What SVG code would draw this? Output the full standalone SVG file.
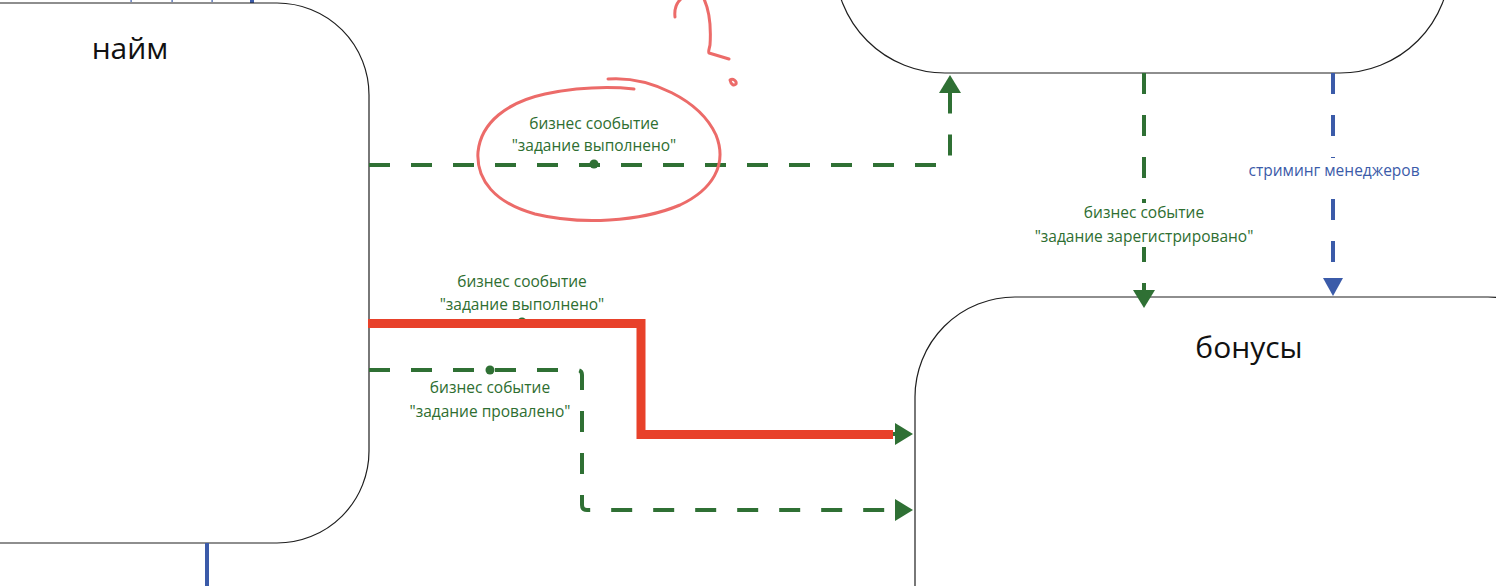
<svg xmlns="http://www.w3.org/2000/svg" width="1496" height="586" viewBox="0 0 1496 586">
<style>
.node{fill:#fff;stroke:#1e1e1e;stroke-width:1.2}
.title{font-family:"Open Sans","Noto Sans",sans-serif;font-size:30px;fill:#111;text-anchor:middle}
.lbl{font-family:"Open Sans","Noto Sans",sans-serif;font-size:15.5px;text-anchor:middle}
.g{fill:#2e6e31}
.b{fill:#3b5ba9}
.gl{fill:none;stroke:#2f7034;stroke-width:4;stroke-dasharray:21 21}
.bl{fill:none;stroke:#3b5ba9;stroke-width:4;stroke-dasharray:21 21}
.scrib{fill:none;stroke:#ec6b69;stroke-width:3;stroke-linecap:round;stroke-linejoin:round}
</style>
<defs>
<marker id="ag" markerUnits="userSpaceOnUse" viewBox="0 0 18 22" markerWidth="18" markerHeight="22" refX="0" refY="11" orient="auto"><path d="M0,0 L18,11 L0,22 Z" fill="#2f7034"/></marker>
<marker id="ab" markerUnits="userSpaceOnUse" viewBox="0 0 18 22" markerWidth="18" markerHeight="22" refX="0" refY="11" orient="auto"><path d="M0,1 L18,11 L0,21 Z" fill="#3b5ba9"/></marker>
</defs>
<rect width="1496" height="586" fill="#fff"/>
<g id="top-fragments">
<rect x="130.5" y="0" width="1.2" height="2" fill="#3b5ba9"/>
<rect x="171.5" y="0" width="1.2" height="2" fill="#3b5ba9"/>
<rect x="211.5" y="0" width="1.2" height="2" fill="#3b5ba9"/>
<rect x="250" y="0" width="4" height="3" fill="#3b5ba9"/>
</g>
<g id="node-hire">
<rect class="node" x="-300" y="3" width="669" height="540" rx="92" ry="92"/>
<text class="title" x="130" y="59">найм</text>
</g>
<g id="node-top">
<rect class="node" x="835" y="-200" width="615" height="273" rx="110" ry="110"/>
</g>
<g id="node-bonus">
<rect class="node" x="915" y="297" width="673" height="400" rx="100" ry="100"/>
<text class="title" x="1249" y="358">бонусы</text>
</g>
<g id="connectors">
<path class="gl" d="M369,165 H944 Q950,165 950,159 V93" marker-end="url(#ag)"/>
<circle cx="594" cy="164" r="4.5" fill="#2f7034"/>
<path class="gl" d="M369,323 H641 V434 H895" marker-end="url(#ag)"/>
<circle cx="522" cy="322" r="4.5" fill="#2f7034"/>
<path d="M368,323.5 H641 V434.5 H893" fill="none" stroke="#e8412a" stroke-width="9" stroke-linejoin="miter"/>
<path class="gl" d="M369,370 H577 Q582,370 582,375 V505 Q582,510 587,510 H895" marker-end="url(#ag)"/>
<circle cx="490" cy="370" r="4.5" fill="#2f7034"/>
<path class="gl" d="M1144,73 V290" marker-end="url(#ag)"/>
<path class="bl" d="M1333,73 V278" marker-end="url(#ab)"/>
<line x1="207" y1="543" x2="207" y2="586" stroke="#3b5ba9" stroke-width="4"/>
</g>
<g id="labels">
<text class="lbl g" x="594" y="129">бизнес сообытие</text>
<text class="lbl g" x="594" y="151">"задание выполнено"</text>
<text class="lbl g" x="522" y="287">бизнес сообытие</text>
<text class="lbl g" x="522" y="310">"задание выполнено"</text>
<text class="lbl g" x="490" y="393">бизнес событие</text>
<text class="lbl g" x="490" y="417">"задание провалено"</text>
<rect x="1030" y="203" width="228" height="44" fill="#fff"/>
<text class="lbl g" x="1144" y="218">бизнес событие</text>
<text class="lbl g" x="1144" y="242">"задание зарегистрировано"</text>
<rect x="1244" y="158" width="180" height="38" fill="#fff"/>
<text class="lbl b" x="1334" y="176">стриминг менеджеров</text>
</g>
<g id="annotation">
<path class="scrib" d="M608,79 C650,76 700,100 716,135 C728,165 712,190 680,205 C640,222 580,225 535,214 C495,203 476,180 478,152 C481,122 508,102 545,94 C575,88 605,86 634,89"/>
<path class="scrib" d="M675,17 C674,8 677,2 682,-2"/>
<path class="scrib" d="M704,-1 C710,12 711,30 710,45 C709,50 708,52 709,53 L729,59"/>
<path class="scrib" d="M730,80 C733,78 737,81 736,84 C734,86 731,85 730,80 Z"/>
</g>
</svg>
